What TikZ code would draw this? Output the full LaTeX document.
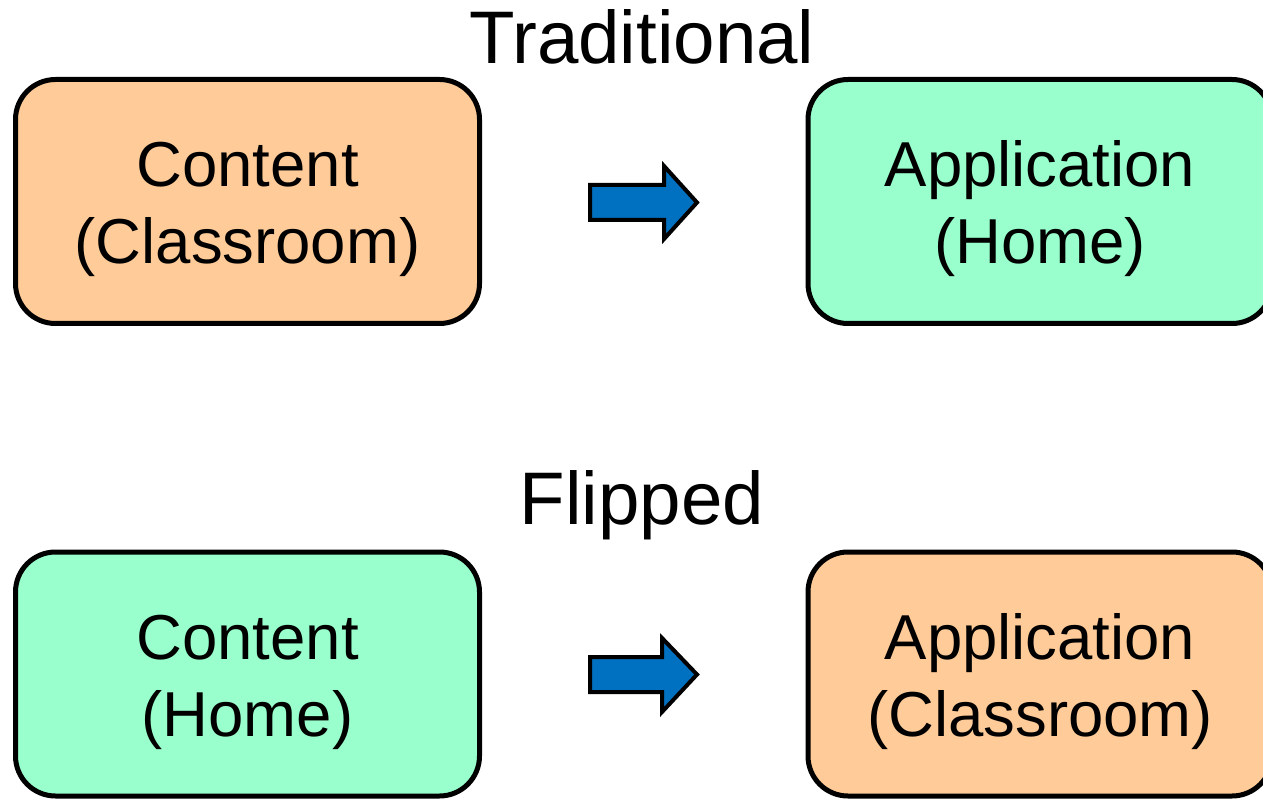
\documentclass[tikz,border=0pt]{standalone}
\usepackage{fontspec}
\setmainfont{Liberation Sans}
\definecolor{boxorange}{HTML}{FFCC99}
\definecolor{boxgreen}{HTML}{99FFCC}
\definecolor{arrowblue}{HTML}{0070C0}
\tikzset{
  panel/.style={draw=black, line width=5pt, rounded corners=40pt, minimum width=464pt, minimum height=244pt, inner sep=0pt},
  boxtext/.style={align=center, inner sep=0pt, font=\fontsize{63.5}{77}\selectfont},
  titletext/.style={anchor=base, inner sep=0pt, font=\fontsize{74.5}{80}\selectfont},
  blockarrow/.style={draw=black, fill=arrowblue, line width=4pt, line join=miter}
}
\begin{document}
\begin{tikzpicture}[x=1pt, y=-1pt]
\useasboundingbox (0,0) rectangle (1263,799);
\clip (0,0) rectangle (1263,799);
% titles
\node[titletext] (ttrad) at (642,64) {Traditional};
\node[titletext] (tflip) at (642,524) {Flipped};
% top row
\node[panel, fill=boxorange] (ca) at (247.5,201.5) {};
\node[panel, fill=boxgreen] (aa) at (1040,201.5) {};
\node[boxtext] (cat) at (247.5,209) {Content\\(Classroom)};
\node[boxtext] (aat) at (1040,209) {Application\\(Home)};
% bottom row
\node[panel, fill=boxgreen] (cb) at (247.5,674) {};
\node[panel, fill=boxorange] (ab) at (1040,674) {};
\node[boxtext] (cbt) at (247.5,682) {Content\\(Home)};
\node[boxtext] (abt) at (1040,682) {Application\\(Classroom)};
% block arrows
\draw[blockarrow] (590,185) -- (664,185) -- (664,166) -- (697,202.5) -- (664,239) -- (664,220) -- (590,220) -- cycle;
\draw[blockarrow] (590,657) -- (662,657) -- (662,638) -- (697,674.5) -- (662,712) -- (662,692) -- (590,692) -- cycle;
\end{tikzpicture}
\end{document}
